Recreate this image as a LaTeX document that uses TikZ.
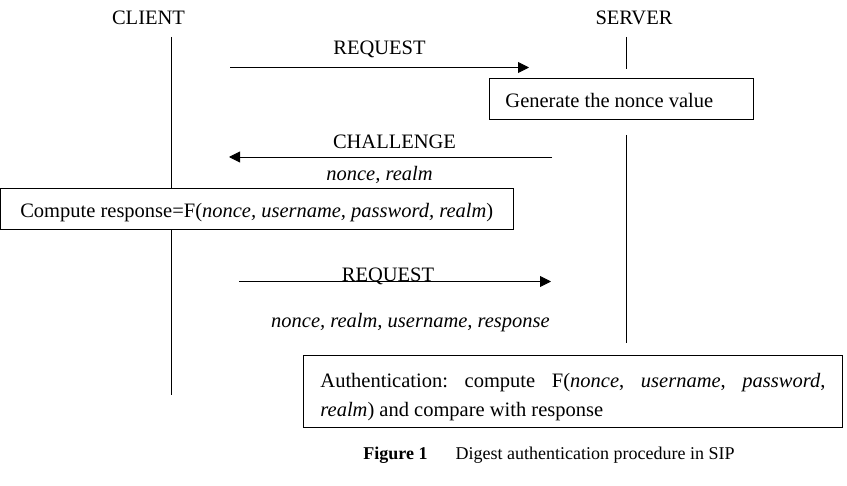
\documentclass[tikz,border=0pt]{standalone}
\usepackage{fontspec}
\setmainfont{Liberation Serif}
\frenchspacing
\usetikzlibrary{arrows.meta, positioning}

\begin{document}
\begin{tikzpicture}[
    x=1pt, y=-1pt,
    actor/.style={
        font=\fontsize{20.5}{29}\selectfont,
        anchor=base,
        inner sep=0pt
    },
    lbl/.style={actor},
    procbox/.style={
        draw,
        line width=0.9pt,
        font=\fontsize{20.5}{29}\selectfont,
        anchor=base,
        inner ysep=0pt,
        text height=29.5pt,
        text depth=11.5pt
    },
    lifeline/.style={line width=0.9pt},
    msg/.style={line width=0.9pt, -{Triangle[length=11pt,width=11pt]}}
]

\useasboundingbox (0,0) rectangle (847,486);

% actors
\node[actor] (client) at (148.5,25) {CLIENT};
\node[actor] (server) at (634,25) {SERVER};

% processing steps
\node[procbox, anchor=base west, inner xsep=16pt, text width=232pt, align=flush left] (nonce)
    at (489,108) {Generate the nonce value};
\node[procbox, minimum width=512.5pt] (compute) at (256.75,218)
    {Compute response=F(\textit{nonce, username, password, realm})};
\node[procbox, anchor=base west, inner xsep=17pt, inner ysep=5pt, text width=505pt,
      align=justify, text height=28pt, text depth=34pt] (auth) at (303,388)
    {Authentication: compute F(\textit{nonce}, \textit{username}, \textit{password},\linebreak
     \textit{realm}) and compare with response};

% lifelines
\coordinate (ctop) at (171,37);
\coordinate (cbot) at (171,395);
\coordinate (stop) at (626,37);
\coordinate (sgap1) at (626,69);
\coordinate (sgap2) at (626,135);
\coordinate (sbot) at (626,343);

\draw[lifeline] (ctop) -- (ctop |- compute.north);
\draw[lifeline] (ctop |- compute.south) -- (cbot);
\draw[lifeline] (stop) -- (sgap1);
\draw[lifeline] (sgap2) -- (sbot);

% messages
\coordinate (req1a) at (230,67.5);
\coordinate (req1b) at (529,67.5);
\coordinate (chla) at (552,157);
\coordinate (chlb) at (229,157);
\coordinate (req2a) at (239,281.5);
\coordinate (req2b) at (551,281.5);

\draw[msg] (req1a) -- node[lbl, yshift=12.5pt]{REQUEST} (req1b);
\draw[msg] (chla) -- node[lbl, xshift=4pt, yshift=8pt]{CHALLENGE}
    node[lbl, xshift=-11pt, yshift=-24pt]{\textit{nonce, realm}} (chlb);
\draw[msg] (req2a) -- node[lbl, xshift=-7pt]{REQUEST}
    node[lbl, xshift=15.5pt, yshift=-46.5pt]{\textit{nonce, realm, username, response}} (req2b);

% caption
\node[lbl, font=\fontsize{18}{22}\selectfont] (caption) at (549,460)
    {\textbf{Figure 1}\hspace{28pt}Digest authentication procedure in SIP};

\end{tikzpicture}
\end{document}
